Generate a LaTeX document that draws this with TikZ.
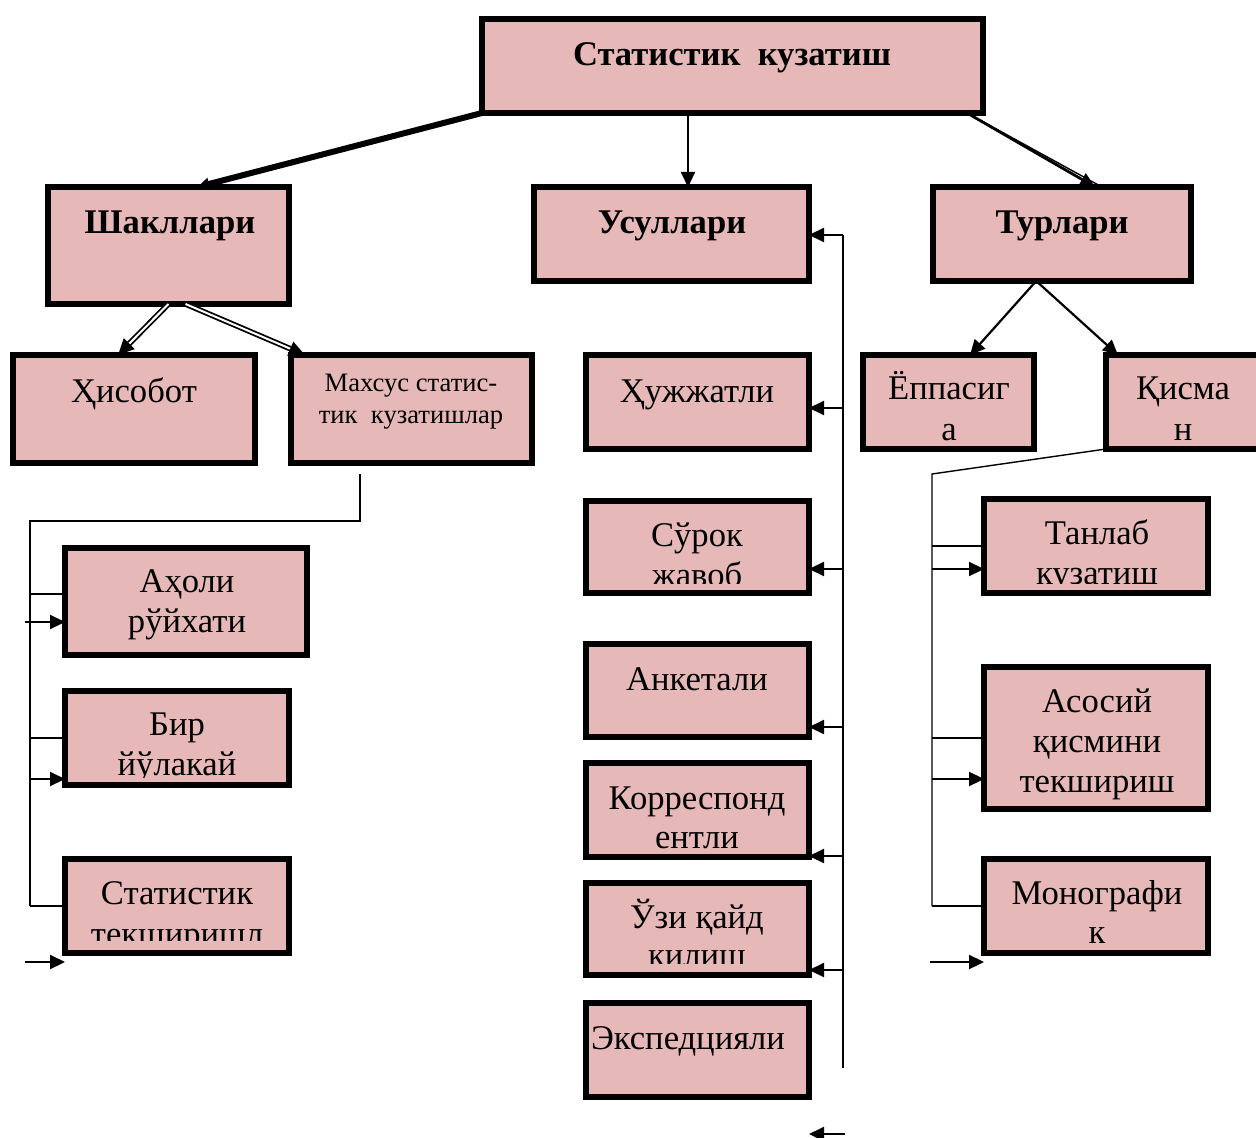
\documentclass[tikz,border=0pt]{standalone}
\usepackage{fontspec}
\setmainfont{Liberation Serif}
\usetikzlibrary{arrows.meta,fit,calc}
\definecolor{boxpink}{HTML}{E6B8B7}
\tikzset{
  box/.style={draw=black, fill=boxpink, line width=3pt, inner sep=0pt, outer sep=0pt},
  lbl/.style={anchor=base, inner sep=0pt, font=\fontsize{17.3}{20}\selectfont},
  blbl/.style={anchor=base, inner sep=0pt, font=\fontsize{17.3}{20}\selectfont\bfseries},
  slbl/.style={anchor=base, inner sep=0pt, font=\fontsize{13.3}{16}\selectfont},
  tipA/.style={-{Triangle[length=7.5pt,width=7pt]}},
  conn/.style={line width=1.1pt, tipA},
  thinln/.style={line width=0.7pt},
  dbl/.style={draw=black, double=white, double distance=1pt, line width=0.9pt, -{Triangle[length=8pt,width=7.5pt]}}
}
\newcommand\mybox[5]{\node[box, fit={(#2+3,#3+3) (#4-3,#5-3)}] (#1) {};}
% \myclip{x1}{y1}{x2}{y2}{bottom inset}
\newcommand\myclip[5]{\clip (#1+3,#2+3) rectangle (#3-3,#4-#5);}
\begin{document}
\begin{tikzpicture}[x=0.5pt,y=-0.5pt]
\useasboundingbox (0,0) rectangle (1256,1138);
% boxes
\mybox{top}{479}{16}{986}{116}
\mybox{shak}{45}{184}{292}{307}
\mybox{usul}{531}{184}{812}{284}
\mybox{turl}{930}{184}{1194}{284}
\mybox{hisob}{10}{352}{258}{466}
\mybox{mahs}{288}{352}{535}{466}
\mybox{hujj}{583}{352}{812}{452}
\mybox{yopp}{860}{352}{1037}{452}
\mybox{qism}{1103}{352}{1266}{452}
\mybox{surok}{583}{498}{812}{596}
\mybox{anket}{583}{641}{812}{740}
\mybox{korr}{583}{760}{812}{860}
\mybox{uzi}{583}{880}{812}{978}
\mybox{eksp}{583}{1000}{812}{1100}
\mybox{aholi}{62}{545}{310}{658}
\mybox{bir}{62}{688}{292}{788}
\mybox{stat}{62}{856}{292}{956}
\mybox{tanl}{981}{496}{1211}{596}
\mybox{asos}{981}{664}{1211}{812}
\mybox{mono}{981}{856}{1211}{956}
% texts
\node[blbl] (t-top) at (732,66) {Статистик\ \ кузатиш};
\node[blbl] (t-shak) at (170,234) {Шакллари};
\node[blbl] (t-usul) at (672,234) {Усуллари};
\node[blbl] (t-turl) at (1062,234) {Турлари};
\node[lbl] (t-hisob) at (134,402) {Ҳисобот};
\node[slbl] (t-mahs1) at (411,392) {Махсус статис-};
\node[slbl] (t-mahs2) at (411,423) {тик\ \ кузатишлар};
\node[lbl] (t-hujj) at (697,402) {Ҳужжатли};
\node[lbl] (t-yopp1) at (949,400) {Ёппасиг};
\node[lbl] (t-yopp2) at (949,440) {а};
\node[lbl] (t-qism1) at (1183,400) {Қисма};
\node[lbl] (t-qism2) at (1183,440) {н};
\begin{scope}\myclip{583}{498}{812}{596}{13}
\node[lbl] (t-surok1) at (697,546) {Сўрок};
\node[lbl] (t-surok2) at (697,586) {жавоб};
\end{scope}
\node[lbl] (t-anket) at (697,690) {Анкетали};
\node[lbl] (t-korr1) at (697,809) {Корреспонд};
\node[lbl] (t-korr2) at (697,848) {ентли};
\begin{scope}\myclip{583}{880}{812}{978}{15}
\node[lbl] (t-uzi1) at (697,928) {Ўзи қайд};
\node[lbl] (t-uzi2) at (697,966) {килиш};
\end{scope}
\node[lbl] (t-eksp) at (688,1049) {Экспедцияли};
\node[lbl] (t-aholi1) at (187,592) {Аҳоли};
\node[lbl] (t-aholi2) at (187,632) {рўйхати};
\begin{scope}\myclip{62}{688}{292}{788}{11}
\node[lbl] (t-bir1) at (177,735) {Бир};
\node[lbl] (t-bir2) at (177,775) {йўлакай};
\end{scope}
\begin{scope}\myclip{62}{856}{292}{956}{16}
\node[lbl] (t-stat1) at (177,904) {Статистик};
\node[lbl] (t-stat2) at (177,945) {текширишл};
\end{scope}
\begin{scope}\myclip{981}{496}{1211}{596}{13}
\node[lbl] (t-tanl1) at (1097,544) {Танлаб};
\node[lbl] (t-tanl2) at (1097,584) {кузатиш};
\end{scope}
\node[lbl] (t-asos1) at (1097,712) {Асосий};
\node[lbl] (t-asos2) at (1097,752) {қисмини};
\node[lbl] (t-asos3) at (1097,792) {текшириш};
\node[lbl] (t-mono1) at (1097,904) {Монографи};
\node[lbl] (t-mono2) at (1097,943) {к};
% top-level connectors
\draw[line width=3pt, -{Triangle[length=6pt,width=6pt]}] (top.south west) -- ($(shak.north west)!0.62!(shak.north east)$);
\coordinate (ux) at (688,0);
\draw[conn] (top.south -| ux) -- (usul.north -| ux);
\coordinate (tstart) at ($(top.south east)+(-16,0)$);
\draw[line width=0.7pt] (tstart) -- ($(turl.north west)!0.655!(turl.north east)$);
\draw[line width=1.4pt, tipA] (tstart) -- ($(turl.north west)!0.628!(turl.north east)$);
\draw[dbl] (shak.south) -- ($(hisob.north west)!0.434!(hisob.north east)$);
\draw[dbl] ($(shak.south)+(17,0)$) -- ($(mahs.north west)+(14,0)$);
\coordinate (tapex) at ($(turl.south west)!0.4!(turl.south east)$);
\draw[conn] (tapex) -- ($(yopp.north west)!0.626!(yopp.north east)$);
\draw[conn] (tapex) -- ($(qism.north west)+(12,0)$);
% left bracket
\coordinate (L0) at ($(mahs.south)+(-51.5,11)$);
\coordinate (L1) at (30,521);
\coordinate (L2) at (30,906);
\draw[thinln] (L0) |- (L1) -- (L2);
\draw[thinln] (L1 |- 0,594) -- (aholi.west |- 0,594);
\draw[thinln] (L1 |- bir.west) -- (bir.west);
\draw[thinln] (L2) -- (stat.west);
\coordinate (a1) at (25,622);
\coordinate (b1) at (30,779);
\coordinate (s1) at (25,962);
\draw[conn] (a1) -- (a1 -| aholi.west);
\draw[conn] (b1) -- (b1 -| bir.west);
\draw[conn] (s1) -- (s1 -| stat.west);
% usullari rail
\coordinate (R0) at (843,235);
\coordinate (Rend) at (843,1068);
\draw[line width=1pt] (R0) -- (Rend);
\draw[conn] (R0) -- (R0 -| usul.east);
\coordinate (R1) at (843,408);
\coordinate (R2) at (843,569);
\coordinate (R3) at (843,727);
\coordinate (R4) at (843,856);
\coordinate (R5) at (843,970);
\draw[conn] (R1) -- (R1 -| hujj.east);
\draw[conn] (R2) -- (R2 -| surok.east);
\draw[conn] (R3) -- (R3 -| anket.east);
\draw[conn] (R4) -- (R4 -| korr.east);
\draw[conn] (R5) -- (R5 -| uzi.east);
\coordinate (R6) at (845,1134);
\draw[conn] (R6) -- (R6 -| eksp.east);
% right bracket
\coordinate (Q1) at (932,474);
\coordinate (Q2) at (932,906);
\draw[thinln] (qism.south west) -- (Q1) -- (Q2);
\draw[thinln] (Q1 |- tanl.west) -- (tanl.west);
\draw[thinln] (Q1 |- asos.west) -- (asos.west);
\draw[thinln] (Q2) -- (mono.west);
\coordinate (m1) at (932,569);
\coordinate (m2) at (932,779);
\coordinate (m3) at (930,962);
\draw[conn] (m1) -- (m1 -| tanl.west);
\draw[conn] (m2) -- (m2 -| asos.west);
\draw[conn] (m3) -- (m3 -| mono.west);
\end{tikzpicture}
\end{document}
